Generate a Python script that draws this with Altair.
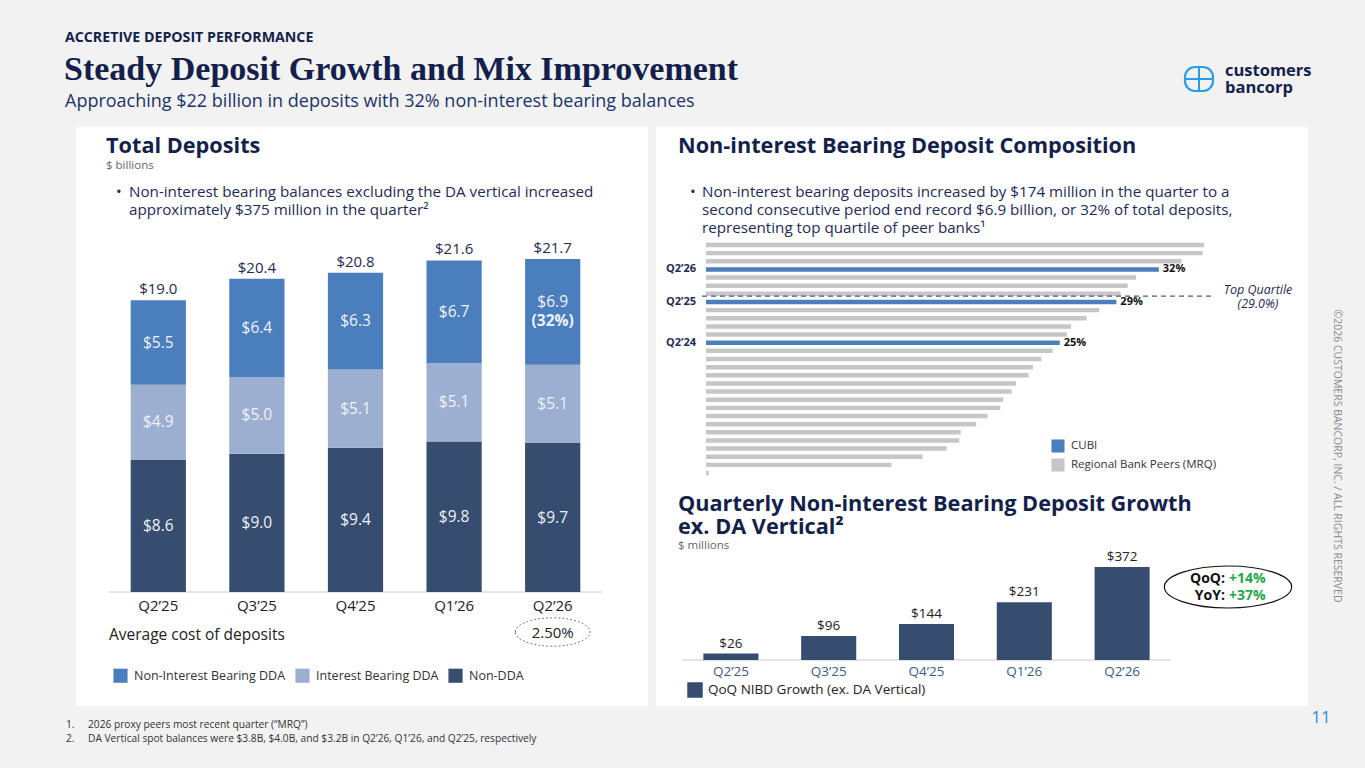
import altair as alt
import pandas as pd

# ---------------- data ----------------
# Total deposits, $ billions
quarters = ["Q2’25", "Q3’25", "Q4’25", "Q1’26", "Q2’26"]
nib_dda = [5.5, 6.4, 6.3, 6.7, 6.9]
ib_dda = [4.9, 5.0, 5.1, 5.1, 5.1]
non_dda = [8.6, 9.0, 9.4, 9.8, 9.7]
avg_cost_of_deposits = "2.50%"

# Non-interest bearing deposits as % of total deposits
peer_values = [35.2, 35.1, 33.6, 30.4, 29.8, 29.3, 27.8, 26.9, 25.8, 25.5,
               24.5, 23.7, 23.1, 22.8, 21.9, 21.6, 21.0, 20.8, 19.9, 19.1,
               18.0, 17.9, 17.0, 15.3, 13.1, 0.2]
cubi_periods = ["Q2’26", "Q2’25", "Q2’24"]
cubi_values = [32, 29, 25]
top_quartile = 29.0

# Quarterly NIB growth ex. DA vertical, $ millions
nibd_growth = [26, 96, 144, 231, 372]
qoq_growth = "+14%"
yoy_growth = "+37%"

# ---------------- styling ----------------
SANS = "Open Sans"
SERIF = "Liberation Serif"
NAVY = "#141f4b"
TEXT = "#1f2a55"
NIB_BLUE = "#4b7ebd"
IB_BLUE = "#9cafd0"
NON_DDA = "#364d6f"
PEER_GRAY = "#c6c6c6"
GREEN = "#1fa64a"
PAGE_BG = "#f2f2f2"
HEAD = 21.7   # section heading size
BODY = 15.2   # bullet text size

ONE = pd.DataFrame({"k": [0]})
layers = []


def txt(s, x, y, size, color=TEXT, weight="normal", align="left", font=SANS,
        style="normal", angle=0):
    props = dict(text=s, fontSize=size, font=font, fontWeight=weight, color=color,
                 align=align, baseline="middle", fontStyle=style)
    if angle:
        props["angle"] = angle
    layers.append(alt.Chart(ONE).mark_text(**props).encode(x=alt.value(x), y=alt.value(y)))


def box(x, x2, y, y2, **style):
    layers.append(alt.Chart(ONE).mark_rect(**style).encode(
        x=alt.value(x), x2=alt.value(x2), y=alt.value(y), y2=alt.value(y2)))


def line(x, x2, y, y2, **style):
    layers.append(alt.Chart(ONE).mark_rule(**style).encode(
        x=alt.value(x), x2=alt.value(x2), y=alt.value(y), y2=alt.value(y2)))


# ---------------- slide frame ----------------
box(76, 648, 127, 706, fill="white")
box(656, 1308, 127, 706, fill="white")

txt("ACCRETIVE DEPOSIT PERFORMANCE", 65, 38, 14.2, NAVY, "bold")
txt("Steady Deposit Growth and Mix Improvement", 64, 70, 34, NAVY, "bold", font=SERIF)
txt("Approaching $22 billion in deposits with 32% non-interest bearing balances", 65, 102, 18, "#1d3468")
txt("customers", 1225, 71, 16.5, NAVY, "bold")
txt("bancorp", 1225, 88, 16.5, NAVY, "bold")
box(1185, 1213, 67, 91, cornerRadius=10, fillOpacity=0, stroke="#2e9be8", strokeWidth=2.2)
line(1185, 1213, 79, 79, stroke="#2e9be8", strokeWidth=2)
line(1199, 1199, 67, 91, stroke="#2e9be8", strokeWidth=2)
txt("©2026 CUSTOMERS BANCORP, INC. / ALL RIGHTS RESERVED", 1337, 456, 10.5, "#8a8a8a",
    angle=90, align="center")
txt("11", 1321, 718, 17, "#2e8fe0", align="center")
txt("1.", 66, 725, 10.2, "#333333")
txt("2026 proxy peers most recent quarter (“MRQ”)", 88, 725, 10.2, "#333333")
txt("2.", 66, 739, 10.2, "#333333")
txt("DA Vertical spot balances were $3.8B, $4.0B, and $3.2B in Q2’26, Q1’26, and Q2’25, respectively",
    88, 739, 10.2, "#333333")

# ---------------- total deposits (stacked bars) ----------------
seg_order = ["Non-Interest Bearing DDA", "Interest Bearing DDA", "Non-DDA"]
rows = []
for i, q in enumerate(quarters):
    base = 0.0
    total = nib_dda[i] + ib_dda[i] + non_dda[i]
    for name, vals in [("Non-DDA", non_dda), ("Interest Bearing DDA", ib_dda),
                       ("Non-Interest Bearing DDA", nib_dda)]:
        v = vals[i]
        rows.append(dict(quarter=q, segment=name, lo=base, hi=base + v,
                         mid=base + v / 2, label=f"${v:.1f}",
                         share=f"({round(100 * v / total):.0f}%)",
                         note=int(q == quarters[-1] and name == "Non-Interest Bearing DDA")))
        base += v
dep = pd.DataFrame(rows)
tot = pd.DataFrame({"quarter": quarters,
                    "total": [a + b + c for a, b, c in zip(nib_dda, ib_dda, non_dda)],
                    "zero": 0.0})
tot["label"] = tot["total"].map(lambda v: f"${v:.1f}")
tot["cost"] = ["", "", "", "", avg_cost_of_deposits]

lx = alt.Scale(domain=quarters, range=[109, 602], paddingInner=0.44, paddingOuter=0.22)
ly = alt.Scale(domain=[0, 22], range=[592, 592 - 22 * 15.35], nice=False)
LX = alt.X("quarter:N", scale=lx, axis=None)

layers.append(alt.Chart(tot).mark_rule(stroke="#e4e4e4", strokeWidth=1).encode(
    x=alt.value(109), x2=alt.value(602), y=alt.Y("zero:Q", scale=ly, axis=None)))
layers.append(alt.Chart(dep).mark_bar().encode(
    x=LX,
    y=alt.Y("lo:Q", scale=ly, axis=None),
    y2="hi:Q",
    color=alt.Color("segment:N",
                    scale=alt.Scale(domain=seg_order, range=[NIB_BLUE, IB_BLUE, NON_DDA]),
                    legend=alt.Legend(orient="none", legendX=113, legendY=668, direction="horizontal",
                                      title=None, symbolType="square", symbolSize=200,
                                      symbolStrokeWidth=0, labelFont=SANS, labelFontSize=12.5,
                                      labelColor="#333333", columnPadding=9, labelOffset=6,
                                      labelLimit=0, padding=0)),
))
layers.append(alt.Chart(dep).transform_filter("datum.note == 0").mark_text(
    font=SANS, fontSize=15.5, color="#eef2f8").encode(
    x=LX, y=alt.Y("mid:Q", scale=ly, axis=None), text="label:N"))
layers.append(alt.Chart(dep).transform_filter("datum.note == 1").mark_text(
    font=SANS, fontSize=15.5, color="#eef2f8", dy=-9.5).encode(
    x=LX, y=alt.Y("mid:Q", scale=ly, axis=None), text="label:N"))
layers.append(alt.Chart(dep).transform_filter("datum.note == 1").mark_text(
    font=SANS, fontSize=15.5, fontWeight="bold", color="#eef2f8", dy=9).encode(
    x=LX, y=alt.Y("mid:Q", scale=ly, axis=None), text="share:N"))
layers.append(alt.Chart(tot).mark_text(font=SANS, fontSize=15, color=TEXT, dy=-11).encode(
    x=LX, y=alt.Y("total:Q", scale=ly, axis=None), text="label:N"))
layers.append(alt.Chart(tot).mark_text(font=SANS, fontSize=15, color="#222222").encode(
    x=LX, y=alt.value(606), text="quarter:N"))
layers.append(alt.Chart(tot).transform_filter("datum.cost != ''").mark_point(
    shape="M -1 0 A 1 0.38 0 1 1 1 0 A 1 0.38 0 1 1 -1 0 Z", size=5600, filled=False,
    stroke="#7a7a7a", strokeWidth=1, strokeDash=[2, 2], opacity=1).encode(
    x=LX, y=alt.value(632)))
layers.append(alt.Chart(tot).transform_filter("datum.cost != ''").mark_text(
    font=SANS, fontSize=15, color="#222222").encode(
    x=LX, y=alt.value(633), text="cost:N"))

txt("Total Deposits", 106, 146, HEAD, NAVY, "bold")
txt("$ billions", 106, 166, 11.5, "#666666")
txt("•", 116, 192, BODY, TEXT)
txt("Non-interest bearing balances excluding the DA vertical increased", 129, 192, BODY, TEXT)
txt("approximately $375 million in the quarter²", 129, 210, BODY, TEXT)
txt("Average cost of deposits", 109, 635, 15.5, "#222222")

# ---------------- NIB composition vs peers ----------------
peers = pd.DataFrame({
    "row": [f"peer {i + 1}" for i in range(len(peer_values))],
    "value": peer_values,
    "group": "Regional Bank Peers (MRQ)",
    "period": "",
})
cubi = pd.DataFrame({"row": cubi_periods, "value": cubi_values, "group": "CUBI",
                     "period": cubi_periods})
comp = pd.concat([peers, cubi], ignore_index=True)
comp["pct"] = comp["value"].map(lambda v: f"{v:.0f}%")
ranked = comp.sort_values("value", ascending=False, kind="stable")
row_order = ranked["row"].tolist()
cutoff_row = ranked[(ranked["group"] != "CUBI") & (ranked["value"] >= top_quartile)]["row"].iloc[-1]
comp["cutoff"] = (comp["row"] == cutoff_row).astype(int)

px = alt.Scale(domain=[0, 40], range=[706, 706 + 40 * 14.15], nice=False)
py = alt.Scale(domain=row_order, range=[240.9, 477.1], paddingInner=0.45, paddingOuter=0.225)
PY = alt.Y("row:N", scale=py, axis=None)

layers.append(alt.Chart(comp).mark_bar().encode(
    x=alt.X("value:Q", scale=px, axis=None),
    y=PY,
    color=alt.Color("group:N",
                    scale=alt.Scale(domain=["CUBI", "Regional Bank Peers (MRQ)"], range=[NIB_BLUE, PEER_GRAY]),
                    legend=alt.Legend(orient="none", legendX=1051, legendY=439, direction="vertical",
                                      title=None, symbolType="square", symbolSize=170,
                                      symbolStrokeWidth=0, labelFont=SANS, labelFontSize=11.5,
                                      labelColor="#333333", rowPadding=5, labelOffset=6,
                                      labelLimit=0, padding=0)),
))
layers.append(alt.Chart(comp).transform_filter("datum.cutoff == 1").mark_rule(
    stroke="#4f5b78", strokeWidth=1.2, strokeDash=[5, 4]).encode(
    x=alt.value(702), x2=alt.value(1215), y=alt.Y("row:N", scale=py, axis=None, bandPosition=1)))
layers.append(alt.Chart(comp).transform_filter("datum.group == 'CUBI'").mark_text(
    font=SANS, fontSize=11, fontWeight="bold", color=TEXT, align="left").encode(
    x=alt.value(666), y=PY, text="period:N"))
layers.append(alt.Chart(comp).transform_filter("datum.group == 'CUBI'").mark_text(
    font=SANS, fontSize=11, fontWeight="bold", color="#111111", align="left", dx=4).encode(
    x=alt.X("value:Q", scale=px, axis=None), y=PY, text="pct:N"))

txt("Top Quartile", 1258, 290, 12.5, TEXT, style="italic", align="center")
txt(f"({top_quartile:.1f}%)", 1258, 304, 12.5, TEXT, style="italic", align="center")
txt("Non-interest Bearing Deposit Composition", 678, 146, HEAD, NAVY, "bold")
txt("•", 690, 192, BODY, TEXT)
txt("Non-interest bearing deposits increased by $174 million in the quarter to a", 702, 192, BODY, TEXT)
txt("second consecutive period end record $6.9 billion, or 32% of total deposits,", 702, 210, BODY, TEXT)
txt("representing top quartile of peer banks¹", 702, 228, BODY, TEXT)

# ---------------- quarterly NIB growth ----------------
growth = pd.DataFrame({"quarter": quarters, "growth": nibd_growth,
                       "series": "QoQ NIBD Growth (ex. DA Vertical)", "zero": 0})
growth["label"] = growth["growth"].map(lambda v: f"${v}")

gx = alt.Scale(domain=quarters, range=[682, 1171], paddingInner=0.437, paddingOuter=0.2185)
gy = alt.Scale(domain=[0, 400], range=[660, 560], nice=False)
GX = alt.X("quarter:N", scale=gx, axis=None)

layers.append(alt.Chart(growth).mark_rule(stroke="#e4e4e4", strokeWidth=1).encode(
    x=alt.value(682), x2=alt.value(1171), y=alt.Y("zero:Q", scale=gy, axis=None)))
layers.append(alt.Chart(growth).mark_bar().encode(
    x=GX, y=alt.Y("growth:Q", scale=gy, axis=None),
    color=alt.Color("series:N", scale=alt.Scale(range=[NON_DDA]),
                    legend=alt.Legend(orient="none", legendX=687, legendY=682, title=None,
                                      symbolType="square", symbolSize=240, symbolStrokeWidth=0,
                                      labelFont=SANS, labelFontSize=13.5, labelColor="#222222",
                                      labelOffset=5, labelLimit=0, padding=0)),
))
layers.append(alt.Chart(growth).mark_text(font=SANS, fontSize=13.5, color="#222222", dy=-10).encode(
    x=GX, y=alt.Y("growth:Q", scale=gy, axis=None), text="label:N"))
layers.append(alt.Chart(growth).mark_text(font=SANS, fontSize=13.5, color="#3d5a85").encode(
    x=GX, y=alt.value(672), text="quarter:N"))
layers.append(alt.Chart(ONE).mark_point(
    shape="M -1 0 A 1 0.33 0 1 1 1 0 A 1 0.33 0 1 1 -1 0 Z", size=16200, filled=False,
    stroke="#111111", strokeWidth=1.2, opacity=1).encode(x=alt.value(1228), y=alt.value(587)))

txt("Quarterly Non-interest Bearing Deposit Growth", 678, 504, HEAD, NAVY, "bold")
txt("ex. DA Vertical²", 678, 527, HEAD, NAVY, "bold")
txt("$ millions", 678, 546, 11.5, "#666666")
txt("QoQ:", 1225, 579, 14, "#111111", "bold", align="right")
txt(qoq_growth, 1229, 579, 14, GREEN, "bold")
txt("YoY:", 1225, 596, 14, "#111111", "bold", align="right")
txt(yoy_growth, 1229, 596, 14, GREEN, "bold")

chart = alt.layer(*layers).resolve_scale(
    x="independent", y="independent", color="independent",
).properties(
    width=1365, height=768, padding=0, autosize="none", background=PAGE_BG,
).configure_view(stroke=None)

chart.save("out.html", embed_options={"renderer": "svg", "actions": False})
